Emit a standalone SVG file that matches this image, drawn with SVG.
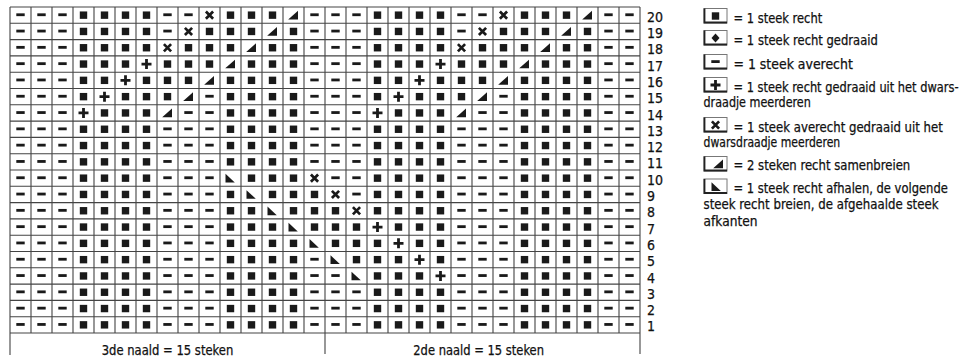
<svg xmlns="http://www.w3.org/2000/svg" xmlns:xlink="http://www.w3.org/1999/xlink" width="967" height="360" viewBox="0 0 967 360">
<style>
.t{font-family:"Liberation Sans Narrow","DejaVu Sans Condensed","Liberation Sans",sans-serif;font-size:14px;fill:#111;stroke:#111;stroke-width:0.25}
.grid{stroke:#444;stroke-width:1.1;fill:none}
.sym{fill:#1a1a1a}
.box{fill:#fff;stroke:#777;stroke-width:1}
.boxs{fill:none;stroke:#222;stroke-width:1.8}
</style>
<defs>
<g id="k" class="sym"><rect x="-3.7" y="-3.7" width="7.4" height="7.4"/></g>
<g id="p" class="sym"><rect x="-4.2" y="-1.8" width="8.4" height="2.8"/></g>
<g id="x"><path d="M-3.6,-3.6L3.6,3.6M-3.6,3.6L3.6,-3.6" stroke="#1a1a1a" stroke-width="2.7" fill="none"/></g>
<g id="a" class="sym"><path d="M-5,-1.4h10v2.8h-10zM-1.4,-5h2.8v10h-2.8z"/></g>
<g id="l" class="sym"><path d="M-5.3,4.3H4.5V-4.4Z"/></g>
<g id="r" class="sym"><path d="M-5,-4.3V4.4H4.3Z"/></g>
<g id="dm" class="sym"><path d="M0,-4.5L4,0L0,4.5L-4,0Z"/></g>
<g id="bx"><rect class="box" x="0" y="0" width="23" height="14.5"/><path class="boxs" d="M0.5,0V14H23"/></g>
<g id="hd">
<use href="#p" x="20.5"/><use href="#p" x="41.5"/><use href="#p" x="62.5"/><use href="#k" x="83.5"/><use href="#k" x="104.5"/><use href="#k" x="125.5"/><use href="#k" x="146.5"/><use href="#p" x="167.5"/><use href="#p" x="188.5"/><use href="#p" x="209.5"/>
</g>
<g id="tl">
<use href="#p" x="461.5"/><use href="#p" x="482.5"/><use href="#p" x="503.5"/><use href="#k" x="524.5"/><use href="#k" x="545.5"/><use href="#k" x="566.5"/><use href="#k" x="587.5"/><use href="#p" x="608.5"/><use href="#p" x="629.5"/>
</g>
<g id="base">
<use href="#hd"/>
<use href="#k" x="230.5"/><use href="#k" x="251.5"/><use href="#k" x="272.5"/><use href="#k" x="293.5"/><use href="#p" x="314.5"/><use href="#p" x="335.5"/><use href="#p" x="356.5"/><use href="#k" x="377.5"/><use href="#k" x="398.5"/><use href="#k" x="419.5"/><use href="#k" x="440.5"/>
<use href="#tl"/>
</g>
</defs>
<rect width="967" height="360" fill="#fff"/>
<g id="grid">
<path class="grid" d="M10,7V333M31,7V333M52,7V333M73,7V333M94,7V333M115,7V333M136,7V333M157,7V333M178,7V333M199,7V333M220,7V333M241,7V333M262,7V333M283,7V333M304,7V333M325,7V333M346,7V333M367,7V333M388,7V333M409,7V333M430,7V333M451,7V333M472,7V333M493,7V333M514,7V333M535,7V333M556,7V333M577,7V333M598,7V333M619,7V333M640,7V333M10,7H640M10,23.3H640M10,39.6H640M10,55.9H640M10,72.2H640M10,88.5H640M10,104.8H640M10,121.1H640M10,137.4H640M10,153.7H640M10,170H640M10,186.3H640M10,202.6H640M10,218.9H640M10,235.2H640M10,251.5H640M10,267.8H640M10,284.1H640M10,300.4H640M10,316.7H640M10,333H640"/>
<path class="grid" d="M10,333V355M325,333V354M640,333V354"/>
</g>
<g id="stitches">
<g id="row20" transform="translate(0,15.15)">
<use href="#p" x="20.5"/><use href="#p" x="41.5"/><use href="#p" x="62.5"/><use href="#k" x="83.5"/><use href="#k" x="104.5"/><use href="#k" x="125.5"/><use href="#k" x="146.5"/><use href="#p" x="167.5"/><use href="#p" x="188.5"/><use href="#x" x="209.5"/><use href="#k" x="230.5"/><use href="#k" x="251.5"/><use href="#k" x="272.5"/><use href="#l" x="293.5"/><use href="#p" x="314.5"/><use href="#p" x="335.5"/><use href="#p" x="356.5"/><use href="#k" x="377.5"/><use href="#k" x="398.5"/><use href="#k" x="419.5"/><use href="#k" x="440.5"/><use href="#p" x="461.5"/><use href="#p" x="482.5"/><use href="#x" x="503.5"/><use href="#k" x="524.5"/><use href="#k" x="545.5"/><use href="#k" x="566.5"/><use href="#l" x="587.5"/><use href="#p" x="608.5"/><use href="#p" x="629.5"/>
</g>
<g id="row19" transform="translate(0,31.45)">
<use href="#p" x="20.5"/><use href="#p" x="41.5"/><use href="#p" x="62.5"/><use href="#k" x="83.5"/><use href="#k" x="104.5"/><use href="#k" x="125.5"/><use href="#k" x="146.5"/><use href="#p" x="167.5"/><use href="#x" x="188.5"/><use href="#k" x="209.5"/><use href="#k" x="230.5"/><use href="#k" x="251.5"/><use href="#l" x="272.5"/><use href="#k" x="293.5"/><use href="#p" x="314.5"/><use href="#p" x="335.5"/><use href="#p" x="356.5"/><use href="#k" x="377.5"/><use href="#k" x="398.5"/><use href="#k" x="419.5"/><use href="#k" x="440.5"/><use href="#p" x="461.5"/><use href="#x" x="482.5"/><use href="#k" x="503.5"/><use href="#k" x="524.5"/><use href="#k" x="545.5"/><use href="#l" x="566.5"/><use href="#k" x="587.5"/><use href="#p" x="608.5"/><use href="#p" x="629.5"/>
</g>
<g id="row18" transform="translate(0,47.75)">
<use href="#p" x="20.5"/><use href="#p" x="41.5"/><use href="#p" x="62.5"/><use href="#k" x="83.5"/><use href="#k" x="104.5"/><use href="#k" x="125.5"/><use href="#k" x="146.5"/><use href="#x" x="167.5"/><use href="#k" x="188.5"/><use href="#k" x="209.5"/><use href="#k" x="230.5"/><use href="#l" x="251.5"/><use href="#k" x="272.5"/><use href="#k" x="293.5"/><use href="#p" x="314.5"/><use href="#p" x="335.5"/><use href="#p" x="356.5"/><use href="#k" x="377.5"/><use href="#k" x="398.5"/><use href="#k" x="419.5"/><use href="#k" x="440.5"/><use href="#x" x="461.5"/><use href="#k" x="482.5"/><use href="#k" x="503.5"/><use href="#k" x="524.5"/><use href="#l" x="545.5"/><use href="#k" x="566.5"/><use href="#k" x="587.5"/><use href="#p" x="608.5"/><use href="#p" x="629.5"/>
</g>
<g id="row17" transform="translate(0,64.05)">
<use href="#p" x="20.5"/><use href="#p" x="41.5"/><use href="#p" x="62.5"/><use href="#k" x="83.5"/><use href="#k" x="104.5"/><use href="#k" x="125.5"/><use href="#a" x="146.5"/><use href="#k" x="167.5"/><use href="#k" x="188.5"/><use href="#k" x="209.5"/><use href="#l" x="230.5"/><use href="#k" x="251.5"/><use href="#k" x="272.5"/><use href="#k" x="293.5"/><use href="#p" x="314.5"/><use href="#p" x="335.5"/><use href="#p" x="356.5"/><use href="#k" x="377.5"/><use href="#k" x="398.5"/><use href="#k" x="419.5"/><use href="#a" x="440.5"/><use href="#k" x="461.5"/><use href="#k" x="482.5"/><use href="#k" x="503.5"/><use href="#l" x="524.5"/><use href="#k" x="545.5"/><use href="#k" x="566.5"/><use href="#k" x="587.5"/><use href="#p" x="608.5"/><use href="#p" x="629.5"/>
</g>
<g id="row16" transform="translate(0,80.35)">
<use href="#p" x="20.5"/><use href="#p" x="41.5"/><use href="#p" x="62.5"/><use href="#k" x="83.5"/><use href="#k" x="104.5"/><use href="#a" x="125.5"/><use href="#k" x="146.5"/><use href="#k" x="167.5"/><use href="#k" x="188.5"/><use href="#l" x="209.5"/><use href="#k" x="230.5"/><use href="#k" x="251.5"/><use href="#k" x="272.5"/><use href="#k" x="293.5"/><use href="#p" x="314.5"/><use href="#p" x="335.5"/><use href="#p" x="356.5"/><use href="#k" x="377.5"/><use href="#k" x="398.5"/><use href="#a" x="419.5"/><use href="#k" x="440.5"/><use href="#k" x="461.5"/><use href="#k" x="482.5"/><use href="#l" x="503.5"/><use href="#k" x="524.5"/><use href="#k" x="545.5"/><use href="#k" x="566.5"/><use href="#k" x="587.5"/><use href="#p" x="608.5"/><use href="#p" x="629.5"/>
</g>
<g id="row15" transform="translate(0,96.65)">
<use href="#p" x="20.5"/><use href="#p" x="41.5"/><use href="#p" x="62.5"/><use href="#k" x="83.5"/><use href="#a" x="104.5"/><use href="#k" x="125.5"/><use href="#k" x="146.5"/><use href="#k" x="167.5"/><use href="#l" x="188.5"/><use href="#p" x="209.5"/><use href="#k" x="230.5"/><use href="#k" x="251.5"/><use href="#k" x="272.5"/><use href="#k" x="293.5"/><use href="#p" x="314.5"/><use href="#p" x="335.5"/><use href="#p" x="356.5"/><use href="#k" x="377.5"/><use href="#a" x="398.5"/><use href="#k" x="419.5"/><use href="#k" x="440.5"/><use href="#k" x="461.5"/><use href="#l" x="482.5"/><use href="#p" x="503.5"/><use href="#k" x="524.5"/><use href="#k" x="545.5"/><use href="#k" x="566.5"/><use href="#k" x="587.5"/><use href="#p" x="608.5"/><use href="#p" x="629.5"/>
</g>
<g id="row14" transform="translate(0,112.95)">
<use href="#p" x="20.5"/><use href="#p" x="41.5"/><use href="#p" x="62.5"/><use href="#a" x="83.5"/><use href="#k" x="104.5"/><use href="#k" x="125.5"/><use href="#k" x="146.5"/><use href="#l" x="167.5"/><use href="#p" x="188.5"/><use href="#p" x="209.5"/><use href="#k" x="230.5"/><use href="#k" x="251.5"/><use href="#k" x="272.5"/><use href="#k" x="293.5"/><use href="#p" x="314.5"/><use href="#p" x="335.5"/><use href="#p" x="356.5"/><use href="#a" x="377.5"/><use href="#k" x="398.5"/><use href="#k" x="419.5"/><use href="#k" x="440.5"/><use href="#l" x="461.5"/><use href="#p" x="482.5"/><use href="#p" x="503.5"/><use href="#k" x="524.5"/><use href="#k" x="545.5"/><use href="#k" x="566.5"/><use href="#k" x="587.5"/><use href="#p" x="608.5"/><use href="#p" x="629.5"/>
</g>
<use id="row13" href="#base" y="129.25"/>
<use id="row12" href="#base" y="145.55"/>
<use id="row11" href="#base" y="161.85"/>
<g id="row10" transform="translate(0,178.15)">
<use href="#hd"/><use href="#r" x="230.5"/><use href="#k" x="251.5"/><use href="#k" x="272.5"/><use href="#k" x="293.5"/><use href="#x" x="314.5"/><use href="#p" x="335.5"/><use href="#p" x="356.5"/><use href="#k" x="377.5"/><use href="#k" x="398.5"/><use href="#k" x="419.5"/><use href="#k" x="440.5"/><use href="#tl"/>
</g>
<g id="row9" transform="translate(0,194.45)">
<use href="#hd"/><use href="#k" x="230.5"/><use href="#r" x="251.5"/><use href="#k" x="272.5"/><use href="#k" x="293.5"/><use href="#k" x="314.5"/><use href="#x" x="335.5"/><use href="#p" x="356.5"/><use href="#k" x="377.5"/><use href="#k" x="398.5"/><use href="#k" x="419.5"/><use href="#k" x="440.5"/><use href="#tl"/>
</g>
<g id="row8" transform="translate(0,210.75)">
<use href="#hd"/><use href="#k" x="230.5"/><use href="#k" x="251.5"/><use href="#r" x="272.5"/><use href="#k" x="293.5"/><use href="#k" x="314.5"/><use href="#k" x="335.5"/><use href="#x" x="356.5"/><use href="#k" x="377.5"/><use href="#k" x="398.5"/><use href="#k" x="419.5"/><use href="#k" x="440.5"/><use href="#tl"/>
</g>
<g id="row7" transform="translate(0,227.05)">
<use href="#hd"/><use href="#k" x="230.5"/><use href="#k" x="251.5"/><use href="#k" x="272.5"/><use href="#r" x="293.5"/><use href="#k" x="314.5"/><use href="#k" x="335.5"/><use href="#k" x="356.5"/><use href="#a" x="377.5"/><use href="#k" x="398.5"/><use href="#k" x="419.5"/><use href="#k" x="440.5"/><use href="#tl"/>
</g>
<g id="row6" transform="translate(0,243.35)">
<use href="#hd"/><use href="#k" x="230.5"/><use href="#k" x="251.5"/><use href="#k" x="272.5"/><use href="#k" x="293.5"/><use href="#r" x="314.5"/><use href="#k" x="335.5"/><use href="#k" x="356.5"/><use href="#k" x="377.5"/><use href="#a" x="398.5"/><use href="#k" x="419.5"/><use href="#k" x="440.5"/><use href="#tl"/>
</g>
<g id="row5" transform="translate(0,259.65)">
<use href="#hd"/><use href="#k" x="230.5"/><use href="#k" x="251.5"/><use href="#k" x="272.5"/><use href="#k" x="293.5"/><use href="#p" x="314.5"/><use href="#r" x="335.5"/><use href="#k" x="356.5"/><use href="#k" x="377.5"/><use href="#k" x="398.5"/><use href="#a" x="419.5"/><use href="#k" x="440.5"/><use href="#tl"/>
</g>
<g id="row4" transform="translate(0,275.95)">
<use href="#hd"/><use href="#k" x="230.5"/><use href="#k" x="251.5"/><use href="#k" x="272.5"/><use href="#k" x="293.5"/><use href="#p" x="314.5"/><use href="#p" x="335.5"/><use href="#r" x="356.5"/><use href="#k" x="377.5"/><use href="#k" x="398.5"/><use href="#k" x="419.5"/><use href="#a" x="440.5"/><use href="#tl"/>
</g>
<use id="row3" href="#base" y="292.25"/>
<use id="row2" href="#base" y="308.55"/>
<use id="row1" href="#base" y="324.85"/>
</g>
<g id="row-numbers" class="t">
<text x="647" y="21.7">20</text>
<text x="647" y="38">19</text>
<text x="647" y="54.3">18</text>
<text x="647" y="70.6">17</text>
<text x="647" y="86.9">16</text>
<text x="647" y="103.2">15</text>
<text x="647" y="119.5">14</text>
<text x="647" y="135.8">13</text>
<text x="647" y="152.1">12</text>
<text x="647" y="168.4">11</text>
<text x="647" y="184.7">10</text>
<text x="647" y="201">9</text>
<text x="647" y="217.3">8</text>
<text x="647" y="233.6">7</text>
<text x="647" y="249.9">6</text>
<text x="647" y="266.2">5</text>
<text x="647" y="282.5">4</text>
<text x="647" y="298.8">3</text>
<text x="647" y="315.1">2</text>
<text x="647" y="331.4">1</text>
</g>
<g id="footer" class="t">
<text x="101.7" y="355" textLength="131.6" lengthAdjust="spacingAndGlyphs">3de naald = 15 steken</text>
<text x="413.3" y="355" textLength="130.7" lengthAdjust="spacingAndGlyphs">2de naald = 15 steken</text>
</g>
<g id="legend">
<g id="leg-recht">
<use href="#bx" x="704" y="8.5"/>
<use href="#k" x="715.5" y="16"/>
<text class="t" x="733.5" y="22.5" textLength="88.7" lengthAdjust="spacingAndGlyphs">= 1 steek recht</text>
</g>
<g id="leg-gedraaid">
<use href="#bx" x="704" y="30.5"/>
<use href="#dm" x="715.5" y="38"/>
<text class="t" x="733.5" y="44.5" textLength="144.3" lengthAdjust="spacingAndGlyphs">= 1 steek recht gedraaid</text>
</g>
<g id="leg-averecht">
<use href="#bx" x="704" y="54.5"/>
<use href="#p" x="715.5" y="62"/>
<text class="t" x="733.5" y="68.5" textLength="119.3" lengthAdjust="spacingAndGlyphs">= 1 steek averecht</text>
</g>
<g id="leg-plus">
<use href="#bx" x="704" y="77.5"/>
<use href="#a" x="715.5" y="85"/>
<text class="t" x="733.5" y="91.5" textLength="225" lengthAdjust="spacingAndGlyphs">= 1 steek recht gedraaid uit het dwars-</text>
<text class="t" x="703.5" y="106.5" textLength="107.3" lengthAdjust="spacingAndGlyphs">draadje meerderen</text>
</g>
<g id="leg-cross">
<use href="#bx" x="704" y="117.5"/>
<use href="#x" x="715.5" y="125"/>
<text class="t" x="733.5" y="131.5" textLength="209.3" lengthAdjust="spacingAndGlyphs">= 1 steek averecht gedraaid uit het</text>
<text class="t" x="703.5" y="147" textLength="136.7" lengthAdjust="spacingAndGlyphs">dwarsdraadje meerderen</text>
</g>
<g id="leg-samen">
<use href="#bx" x="704" y="156.5"/>
<use href="#l" x="718.5" y="164"/>
<text class="t" x="733.5" y="170" textLength="176.7" lengthAdjust="spacingAndGlyphs">= 2 steken recht samenbreien</text>
</g>
<g id="leg-afhalen">
<use href="#bx" x="704" y="179"/>
<use href="#r" x="716.5" y="186.5"/>
<text class="t" x="733.5" y="192.5" textLength="214.3" lengthAdjust="spacingAndGlyphs">= 1 steek recht afhalen, de volgende</text>
<text class="t" x="703.5" y="209" textLength="235" lengthAdjust="spacingAndGlyphs">steek recht breien, de afgehaalde steek</text>
<text class="t" x="703.5" y="225.5" textLength="54" lengthAdjust="spacingAndGlyphs">afkanten</text>
</g>
</g>
</svg>
